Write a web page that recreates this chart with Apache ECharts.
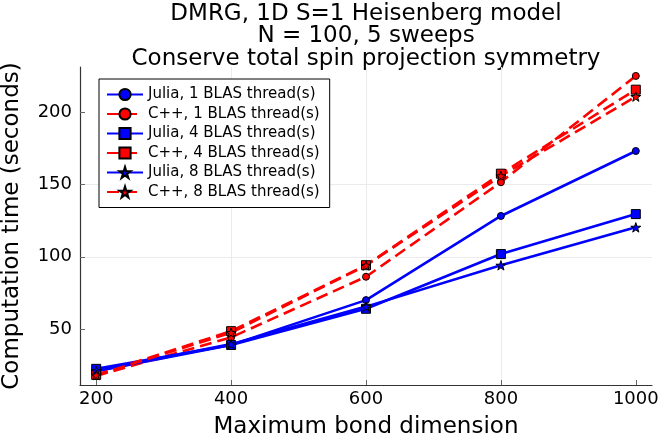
<!DOCTYPE html>
<html>
<head>
<meta charset="utf-8">
<script src="https://cdn.jsdelivr.net/npm/echarts@6/dist/echarts.min.js"></script>
<style>
html, body { margin: 0; padding: 0; background: #fff; }
#chart { width: 664px; height: 443px; }
</style>
</head>
<body>
<div id="chart"></div>
<script>
var myChart = echarts.init(document.getElementById('chart'));

// bond dimensions on the x axis
var bondDims = [200, 400, 600, 800, 1000];
var xTicks = [200, 400, 600, 800, 1000];
var yTicks = [50, 100, 150, 200];

// computation time in seconds
var julia1 = [20.8, 39, 70, 128.3, 173.3];
var cpp1 = [17.5, 44.2, 86.2, 151.7, 225.3];
var julia4 = [22.4, 38.9, 64, 101.9, 129.6];
var cpp4 = [18.2, 48.5, 94.2, 157.6, 215.8];
var julia8 = [21, 39.5, 65.5, 94.1, 120.4];
var cpp8 = [18, 47.4, 94, 156, 211];

var titleLines = [
    'DMRG, 1D S=1 Heisenberg model',
    'N = 100, 5 sweeps',
    'Conserve total spin projection symmetry'
];

var star = 'path://M0,-1 L0.2245,-0.309 L0.951,-0.309 L0.363,0.118 L0.588,0.809 L0,0.382 L-0.588,0.809 L-0.363,0.118 L-0.951,-0.309 L-0.2245,-0.309 Z';

function pairs(ys) {
    var out = [];
    for (var i = 0; i < bondDims.length; i++) {
        out.push([bondDims[i], ys[i]]);
    }
    return out;
}

function makeSeries(name, ys, color, dashed, symbol, size) {
    return {
        name: name,
        type: 'line',
        data: pairs(ys),
        symbol: symbol,
        symbolSize: size,
        symbolKeepAspect: true,
        showAllSymbol: true,
        lineStyle: {
            color: color,
            width: 2.6,
            type: dashed ? [12, 6] : 'solid'
        },
        itemStyle: {
            color: color,
            borderColor: '#000',
            borderWidth: 1
        },
        emphasis: { disabled: true },
        animation: false
    };
}

var font = 'DejaVu Sans';

var option = {
    backgroundColor: '#fff',
    textStyle: { fontFamily: font },
    grid: {
        left: 80,
        right: 12,
        top: 67,
        bottom: 58,
        outerBoundsMode: 'none'
    },
    legend: {
        orient: 'vertical',
        left: 99,
        top: 79,
        itemWidth: 36,
        itemHeight: 14,
        itemGap: 4.5,
        padding: [8, 10, 8, 7],
        borderColor: '#000',
        borderWidth: 1,
        backgroundColor: '#fff',
        textStyle: { fontFamily: font, fontSize: 15, color: '#000' },
        data: [
            'Julia, 1 BLAS thread(s)',
            'C++, 1 BLAS thread(s)',
            'Julia, 4 BLAS thread(s)',
            'C++, 4 BLAS thread(s)',
            'Julia, 8 BLAS thread(s)',
            'C++, 8 BLAS thread(s)'
        ]
    },
    xAxis: {
        type: 'value',
        min: 176,
        max: 1024,
        name: 'Maximum bond dimension',
        nameLocation: 'middle',
        nameGap: 31,
        nameTextStyle: { fontFamily: font, fontSize: 23, color: '#000' },
        axisLine: { show: true, onZero: false, lineStyle: { color: '#333', width: 1.2 } },
        axisTick: { inside: true, length: 5, customValues: xTicks, lineStyle: { color: '#666' } },
        axisLabel: {
            customValues: xTicks,
            formatter: function (v) { return String(v); },
            fontFamily: font, fontSize: 18, color: '#000', margin: 5
        },
        splitLine: { show: true, showMinLine: false, showMaxLine: false, lineStyle: { color: '#ebebeb', width: 1 } }
    },
    yAxis: {
        type: 'value',
        min: 11.2,
        max: 231.5,
        name: 'Computation time (seconds)',
        nameLocation: 'middle',
        nameGap: 56,
        nameTextStyle: { fontFamily: font, fontSize: 23, color: '#000' },
        axisLine: { show: true, onZero: false, lineStyle: { color: '#333', width: 1.2 } },
        axisTick: { show: true, inside: true, length: 5, customValues: yTicks, lineStyle: { color: '#666' } },
        axisLabel: { customValues: yTicks, fontFamily: font, fontSize: 18, color: '#000', margin: 8 },
        splitLine: { show: true, showMinLine: false, showMaxLine: false, lineStyle: { color: '#ebebeb', width: 1 } }
    },
    // three-line title, centred over the plot area
    graphic: titleLines.map(function (line, i) {
        return {
            type: 'text',
            x: 366,
            y: 14 + i * 22.5,
            style: {
                text: line,
                fontFamily: font,
                fontSize: 23,
                fill: '#000',
                align: 'center',
                verticalAlign: 'middle'
            }
        };
    }),
    series: [
        makeSeries('Julia, 1 BLAS thread(s)', julia1, '#0000ff', false, 'circle', 7),
        makeSeries('C++, 1 BLAS thread(s)', cpp1, '#ff0000', true, 'circle', 7),
        makeSeries('Julia, 4 BLAS thread(s)', julia4, '#0000ff', false, 'rect', 9),
        makeSeries('C++, 4 BLAS thread(s)', cpp4, '#ff0000', true, 'rect', 9),
        makeSeries('Julia, 8 BLAS thread(s)', julia8, '#0000ff', false, star, 10),
        makeSeries('C++, 8 BLAS thread(s)', cpp8, '#ff0000', true, star, 10)
    ]
};

myChart.setOption(option);
window.onresize = function () {
    myChart.resize();
};
</script>
</body>
</html>
